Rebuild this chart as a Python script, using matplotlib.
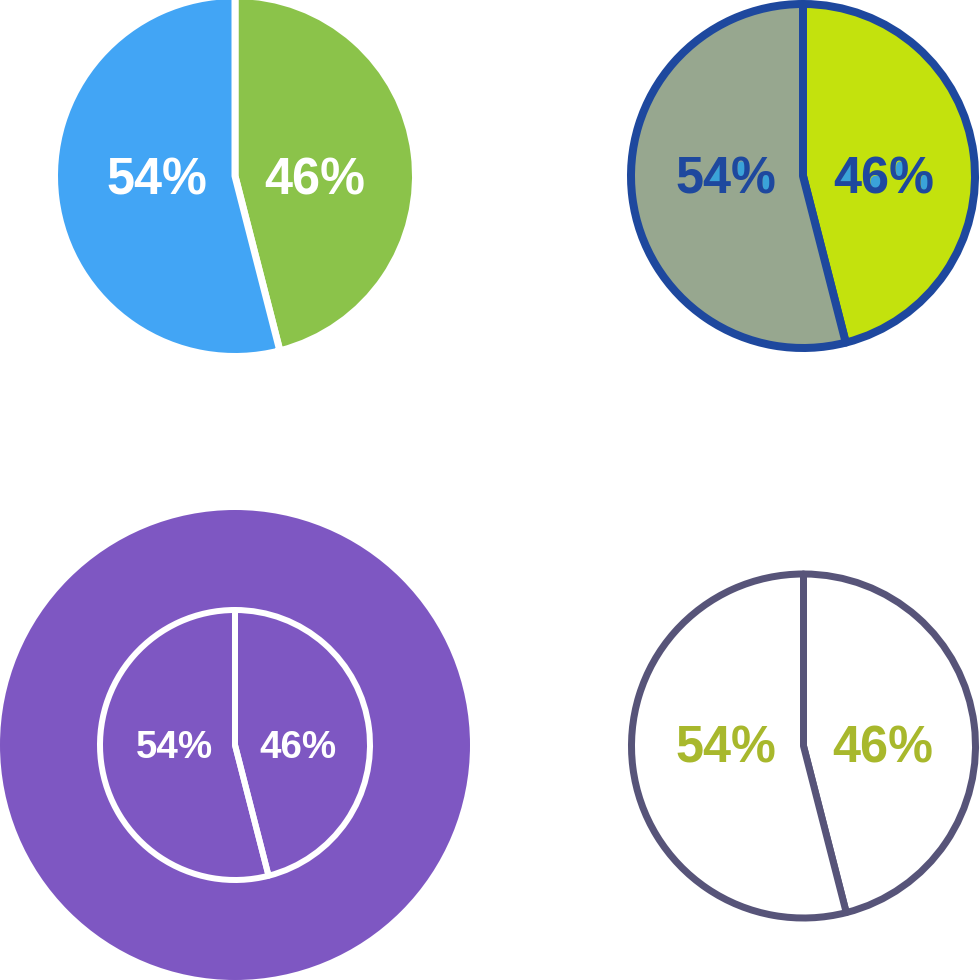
import matplotlib
matplotlib.use('Agg')
import matplotlib.pyplot as plt
from matplotlib.patches import Circle, Polygon
from matplotlib.textpath import TextPath
from matplotlib.font_manager import FontProperties
import numpy as np

# ---- data ----
categories = ['Part B', 'Part A']
values = [46, 54]
labels = ['46%', '54%']

# ---- colours ----
GREEN = '#8BC34A'
BLUE = '#42A5F5'
SAGE = '#97A78F'
LIME = '#C3E20D'
NAVY = '#1E489E'
SKY = '#3AA3D9'
PURPLE = '#7E57C2'
SLATE = '#575479'
OLIVE = '#A8B82C'

DPI = 100
PX = 72.0 / DPI  # points per pixel
H = 980

fig = plt.figure(figsize=(9.8, 9.8), dpi=DPI)
ax = fig.add_axes([0, 0, 1, 1])


def Y(y):
    return H - y


fp = FontProperties(family='Liberation Sans', weight='bold')


def label(s, cx, cy, size, color, hole=None):
    tp = TextPath((0, 0), s, size=size, prop=fp)
    ext = tp.get_extents()
    x0 = cx - (ext.x0 + ext.width / 2)
    y0 = Y(cy) - (ext.y0 + ext.height / 2)
    if hole:
        polys = tp.to_polygons()
        areas = []
        for p in polys:
            x, y = p[:, 0], p[:, 1]
            areas.append(0.5 * np.sum(x * np.roll(y, -1) - np.roll(x, -1) * y))
        ref = np.sign(areas[int(np.argmax(np.abs(areas)))])
        for p, a in zip(polys, areas):
            if np.sign(a) != ref:
                ax.add_patch(Polygon(p + np.array([x0, y0]), closed=True,
                                     fc=hole, ec=hole, lw=0.8, zorder=5))
    ax.text(x0, y0, s, fontsize=size * PX, color=color, ha='left',
            va='baseline', family='Liberation Sans', weight='bold', zorder=6)


START = 90

# ---- pie 1 (top-left) ----
ax.pie(values, colors=[GREEN, BLUE], startangle=START, counterclock=False,
       center=(235, Y(176)), radius=180.5,
       wedgeprops=dict(edgecolor='white', linewidth=7 * PX, joinstyle='round'))
label(labels[1], 157, 177, 50.5, 'white')
label(labels[0], 315, 177, 50.5, 'white')

# ---- pie 2 (top-right) ----
ax.pie(values, colors=[LIME, SAGE], startangle=START, counterclock=False,
       center=(803, Y(176)), radius=172,
       wedgeprops=dict(edgecolor=NAVY, linewidth=8 * PX, joinstyle='round'))
label(labels[1], 726, 176, 50.5, NAVY, hole=SKY)
label(labels[0], 884, 176, 50.5, NAVY, hole=SKY)

# ---- pie 3 (bottom-left) ----
ax.add_patch(Circle((235, Y(745)), 235, fc=PURPLE, ec='none', zorder=0))
ax.pie(values, colors=['none', 'none'], startangle=START, counterclock=False,
       center=(235, Y(745)), radius=135,
       wedgeprops=dict(edgecolor='white', linewidth=6 * PX, joinstyle='round'))
label(labels[1], 174.5, 745, 38.5, 'white')
label(labels[0], 297.5, 745, 38.5, 'white')

# ---- pie 4 (bottom-right) ----
ax.pie(values, colors=['white', 'white'], startangle=START, counterclock=False,
       center=(803.5, Y(746)), radius=172,
       wedgeprops=dict(edgecolor=SLATE, linewidth=7 * PX, joinstyle='round'))
label(labels[1], 726, 745, 50.5, OLIVE)
label(labels[0], 883, 745, 50.5, OLIVE)

ax.set_xlim(0, 980)
ax.set_ylim(0, 980)
ax.set_aspect('equal')
ax.axis('off')

fig.savefig('out.png', dpi=DPI, facecolor='white')
